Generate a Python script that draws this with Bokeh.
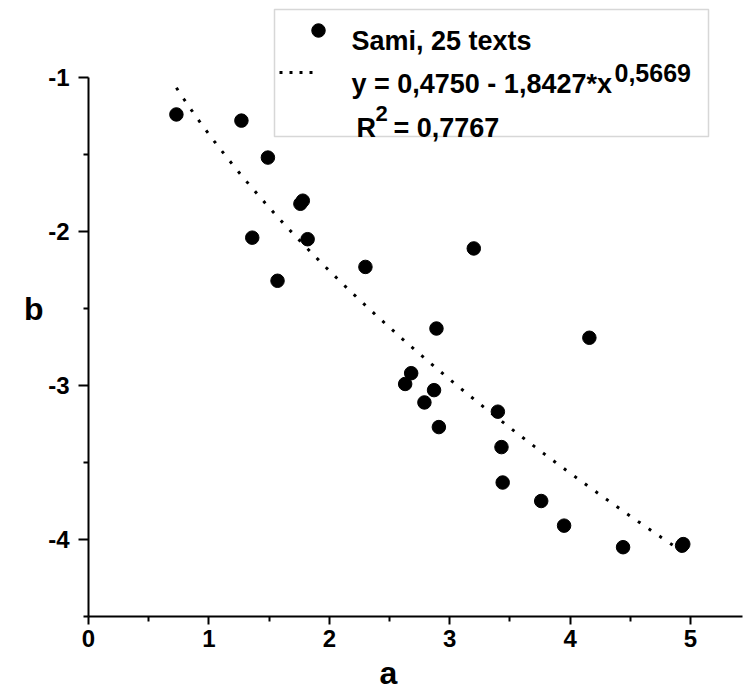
import numpy as np
from bokeh.plotting import figure
from bokeh.models import FixedTicker, Label, BoxAnnotation, Range1d, LinearAxis, Title
from bokeh.embed import file_html
from bokeh.resources import INLINE

# ---- data ----
a_vals = [0.73, 1.27, 1.49, 1.76, 1.78, 1.36, 1.82, 2.30, 1.57, 3.20,
          2.89, 4.16, 2.68, 2.63, 2.87, 2.79, 3.40, 2.91, 3.43, 3.44,
          3.76, 3.95, 4.44, 4.94, 4.93]
b_vals = [-1.24, -1.28, -1.52, -1.82, -1.80, -2.04, -2.05, -2.23, -2.32, -2.11,
          -2.63, -2.69, -2.92, -2.99, -3.03, -3.11, -3.17, -3.27, -3.40, -3.63,
          -3.75, -3.91, -4.05, -4.03, -4.04]

# fitted curve  y = c0 - c1 * x^c2  (coefficients as printed in the legend)
fit_c0 = 0.4750
fit_c1 = 1.8427
fit_c2 = 0.5669
fit_x_start = 0.73
fit_x_end = 4.93

x_major = [0, 1, 2, 3, 4, 5]
x_minor = [0.5, 1.5, 2.5, 3.5, 4.5]
y_major = [-4, -3, -2, -1]
y_minor = [-4.5, -3.5, -2.5, -1.5]
y_tick_text = {-4: "-4", -3: "-3", -2: "-2", -1: "-1"}

x_title = "a"
y_title = "b"
series_label = "Sami, 25 texts"
eq_main = "y = 0,4750 - 1,8427*x"
eq_sup = "0,5669"
r2_label = "R"
r2_sup = "2"
r2_value = "= 0,7767"

FONT = "Liberation Sans"

# ---- layout ----
W, H = 745, 700
BL, BB, BR = 88, 84, 3
frame_h = H - BB
x_px_per_unit = 120.4
y_px_per_unit = 154.0
x_end = (W - BL - BR) / x_px_per_unit
y_start = -4.5
y_end = y_start + frame_h / y_px_per_unit

p = figure(width=W, height=H, output_backend="svg", toolbar_location=None,
           x_range=Range1d(0, x_end), y_range=Range1d(y_start, y_end),
           min_border_left=BL, min_border_right=BR, min_border_top=0,
           min_border_bottom=BB)
p.outline_line_color = None
p.grid.visible = False
p.background_fill_color = "white"
p.border_fill_color = "white"

# helpers converting page pixels (annotation layout only) into data units
def dx(px):
    return (px - BL) / x_px_per_unit

def dy(py):
    return y_start + (frame_h - py) / y_px_per_unit

for ax in (p.xaxis[0], p.yaxis[0]):
    ax.axis_line_width = 2
    ax.axis_line_color = "black"
    ax.major_tick_line_width = 2
    ax.minor_tick_line_width = 2
    ax.major_tick_line_color = "black"
    ax.minor_tick_line_color = "black"
    ax.major_tick_in = 0
    ax.minor_tick_in = 0
    ax.minor_tick_out = 5
    ax.major_label_text_font = FONT
    ax.major_label_text_font_style = "bold"
    ax.major_label_text_font_size = "24px"
    ax.major_label_text_color = "black"

p.xaxis.major_tick_out = 8
p.yaxis.major_tick_out = 10
p.xaxis.ticker = FixedTicker(ticks=x_major, minor_ticks=x_minor)
p.yaxis.ticker = FixedTicker(ticks=y_major, minor_ticks=y_minor)
p.yaxis.major_label_overrides = y_tick_text
p.yaxis.bounds = (y_minor[0], y_major[-1])
p.xaxis.bounds = (0, x_end)
p.xaxis.major_label_standoff = 5
p.yaxis.major_label_standoff = 9

# x title below the axis, placed under the middle of 0..5
p.add_layout(Title(text=x_title, align="left", offset=291, standoff=7,
                   text_font=FONT, text_font_style="bold", text_font_size="32px",
                   text_color="black"), "below")

# y title: horizontal text on an otherwise empty left axis
ytitle_axis = LinearAxis(ticker=FixedTicker(ticks=[], minor_ticks=[]),
                         bounds=(-4.5, -0.4), axis_label=y_title,
                         axis_label_standoff=2, axis_label_orientation="horizontal",
                         axis_line_color=None, major_tick_line_color=None,
                         minor_tick_line_color=None, major_tick_out=0, major_tick_in=0,
                         minor_tick_out=0, minor_tick_in=0, major_label_standoff=0,
                         axis_label_text_font=FONT, axis_label_text_font_style="bold",
                         axis_label_text_font_size="32px", axis_label_text_color="black")
p.add_layout(ytitle_axis, "left")

# ---- fitted curve ----
fx = np.linspace(fit_x_start, fit_x_end, 200)
fy = fit_c0 - fit_c1 * fx ** fit_c2
p.line(fx, fy, line_color="black", line_width=3, line_dash="3 10")

# ---- data points ----
p.scatter(a_vals, b_vals, size=13.5, marker="circle", fill_color="black",
          line_color="black")

# ---- legend (drawn by hand because of superscripts) ----
p.add_layout(BoxAnnotation(left=dx(274), right=dx(708), top=dy(9), bottom=dy(136),
                           fill_color="white", fill_alpha=1.0, level="underlay",
                           line_color="#7a7a7a", line_width=1.5))
p.scatter([dx(318)], [dy(30)], size=13.5, marker="circle", fill_color="black",
          line_color="black")
p.line([dx(279), dx(313)], [dy(72), dy(72)], line_color="black", line_width=3,
       line_dash="3 7")

def lab(text, px, py, size, align="left"):
    p.add_layout(Label(x=dx(px), y=dy(py), text=text, text_font=FONT,
                       text_font_style="bold", text_font_size=size,
                       text_color="black", text_baseline="alphabetic",
                       text_align=align))

lab(series_label, 351, 40, "27px")
lab(eq_main, 351, 83, "27px")
lab(eq_sup, 614, 72, "25px")
lab(r2_label, 356, 127, "27px")
lab(r2_sup, 375, 113, "22px")
lab(r2_value, 393, 127, "27px")

open("out.html", "w").write(file_html(p, INLINE))
